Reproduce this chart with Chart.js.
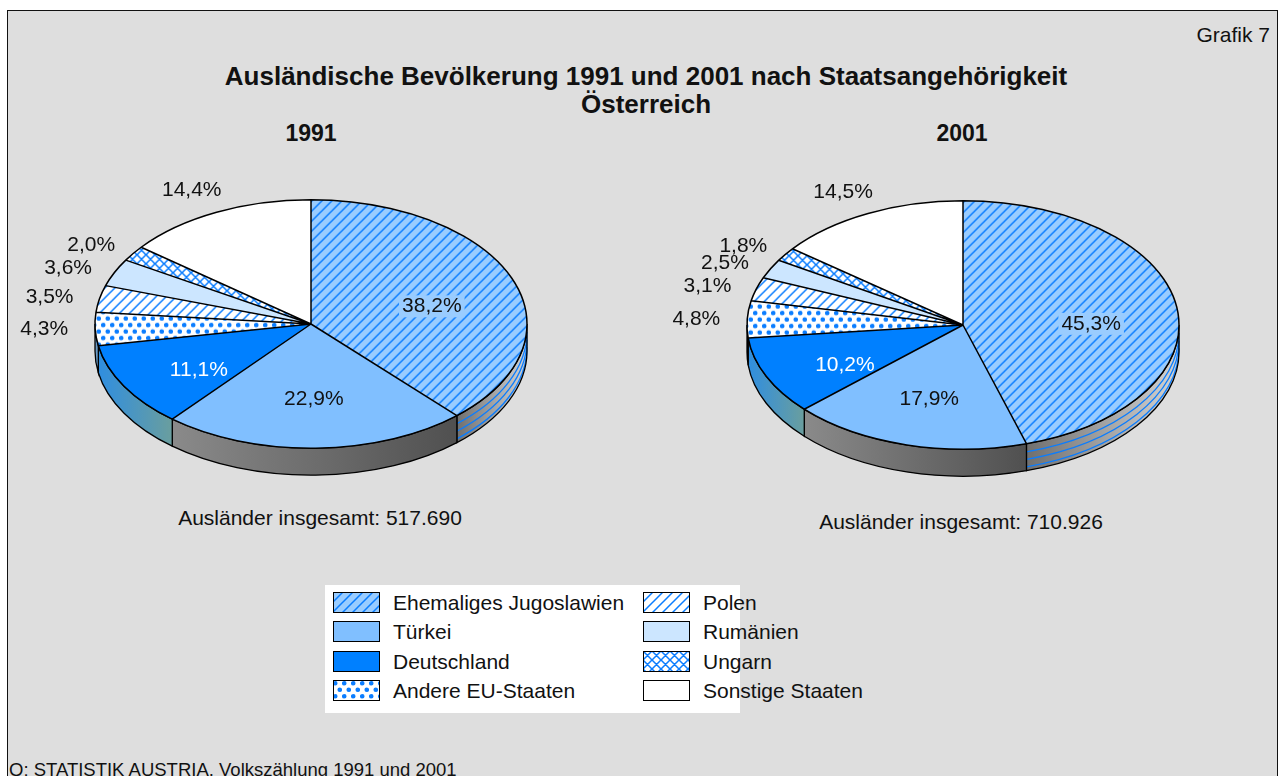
<!DOCTYPE html>
<html>
<head>
<meta charset="utf-8">
<script src="https://cdn.jsdelivr.net/npm/chart.js@4.4.0/dist/chart.umd.min.js"></script>
<style>
  body { margin: 0; background: #fff; font-family: 'Liberation Sans', Arial, sans-serif; color: #111; }
  #frame { position: absolute; left: 7px; top: 10px; width: 1269px; height: 800px; background: #dedede; border: 1px solid #111; }
  .txt { position: absolute; white-space: nowrap; transform: translate(-50%, -50%); font-size: 21px; }
  .bold { font-weight: bold; font-size: 26px; }
  .year { font-weight: bold; font-size: 23px; }
  .src { font-size: 18.5px; }
  .pie { position: absolute; }
  #legend { position: absolute; left: 325px; top: 585px; width: 415px; height: 128px; background: #fff; }
  .sw { position: absolute; }
  .lt { position: absolute; font-size: 21px; white-space: nowrap; transform: translateY(-50%); }
</style>
</head>
<body>
<div id="frame"></div>
<div id="texts"></div>
<div class="pie" style="left:11px; top:94px;"><canvas id="pie1991" width="600" height="460"></canvas></div>
<div class="pie" style="left:663px; top:95px;"><canvas id="pie2001" width="600" height="460"></canvas></div>
<div id="legend"></div>
<script>
// data
var categories = ['Ehemaliges Jugoslawien', 'Türkei', 'Deutschland', 'Andere EU-Staaten', 'Polen', 'Rumänien', 'Ungarn', 'Sonstige Staaten'];
var share1991 = [38.2, 22.9, 11.1, 4.3, 3.5, 3.6, 2.0, 14.4];
var share2001 = [45.3, 17.9, 10.2, 4.8, 3.1, 2.5, 1.8, 14.5];
var years = ['1991', '2001'];
var totals = ['517.690', '710.926'];

// styles
var blue = '#0a7dff';
var fills = [
  { bg: '#99ccff', hatch: 'stripe' },
  { bg: '#80bfff' },
  { bg: '#0080ff' },
  { bg: '#ffffff', hatch: 'dots' },
  { bg: '#ffffff', hatch: 'stripe' },
  { bg: '#cce6ff' },
  { bg: '#ffffff', hatch: 'cross' },
  { bg: '#ffffff' }
];
var wallColors = [
  ['#6f6f6f', '#d4d4d4'],
  ['#8a8a8a', '#505050'],
  ['#2f8ee0', '#6a9e9e'],
  ['#6a9cc8', '#6a9cc8'],
  ['#aaaaaa', '#aaaaaa'],
  ['#aaaaaa', '#aaaaaa'],
  ['#aaaaaa', '#aaaaaa'],
  ['#aaaaaa', '#aaaaaa']
];
var labelColors = ['#111', '#111', '#fff', '#111', '#111', '#111', '#111', '#111'];

var tilt = 0.575;
var depth = 27;
var font = "21px 'Liberation Sans', Arial, sans-serif";

function makeFill(spec, squash) {
  if (!spec.hatch) { return spec.bg; }
  var c = document.createElement('canvas');
  var g = c.getContext('2d');
  if (spec.hatch === 'dots') {
    c.width = 9; c.height = 13;
    g.fillStyle = spec.bg; g.fillRect(0, 0, 9, 13);
    g.fillStyle = blue;
    [[2.25, 3.25], [6.75, 9.75]].forEach(function (p) {
      g.beginPath(); g.arc(p[0], p[1], 2.3, 0, Math.PI * 2); g.fill();
    });
  } else {
    var n = spec.hatch === 'cross' ? 9 : 10;
    c.width = n; c.height = n;
    g.fillStyle = spec.bg; g.fillRect(0, 0, n, n);
    g.strokeStyle = blue; g.lineWidth = 1.5;
    g.beginPath();
    g.moveTo(-1, n + 1); g.lineTo(n + 1, -1);
    g.moveTo(-1, 1); g.lineTo(1, -1);
    g.moveTo(n - 1, n + 1); g.lineTo(n + 1, n - 1);
    if (spec.hatch === 'cross') {
      g.moveTo(-1, -1); g.lineTo(n + 1, n + 1);
      g.moveTo(n - 1, -1); g.lineTo(n + 1, 1);
      g.moveTo(-1, n - 1); g.lineTo(1, n + 1);
    }
    g.stroke();
  }
  var pat = g.createPattern(c, 'repeat');
  if (squash) { pat.setTransform(new DOMMatrix([1, 0, 0, 1 / tilt, 0, 0])); }
  return pat;
}

function fmt(v) { return v.toFixed(1).replace('.', ',') + '%'; }

function wallPath(ctx, cx, cy, rx, ry, a0, a1, d) {
  ctx.beginPath();
  ctx.ellipse(cx, cy, rx, ry, 0, a0, a1, false);
  ctx.lineTo(cx + rx * Math.cos(a1), cy + ry * Math.sin(a1) + d);
  ctx.ellipse(cx, cy + d, rx, ry, 0, a1, a0, true);
  ctx.closePath();
}

var pie3d = {
  id: 'pie3d',
  beforeDatasetsDraw: function (chart) {
    var ctx = chart.ctx;
    var arcs = chart.getDatasetMeta(0).data;
    arcs.forEach(function (a, i) {
      var s = Math.max(a.startAngle, 0), e = Math.min(a.endAngle, Math.PI);
      if (e <= s) { return; }
      var rx = a.outerRadius, ry = rx * tilt;
      var xr = a.x + rx * Math.cos(s), xl = a.x + rx * Math.cos(e);
      var grad = ctx.createLinearGradient(xl, 0, xr, 0);
      grad.addColorStop(0, wallColors[i][0]);
      grad.addColorStop(1, wallColors[i][1]);
      ctx.save();
      wallPath(ctx, a.x, a.y, rx, ry, s, e, depth);
      ctx.fillStyle = grad;
      ctx.fill();
      if (i === 0) {
        ctx.strokeStyle = blue; ctx.lineWidth = 1.3;
        [0.3, 0.58, 0.86].forEach(function (t) {
          ctx.beginPath();
          ctx.ellipse(a.x, a.y + depth * t, rx, ry, 0, s, e, false);
          ctx.stroke();
        });
      }
      wallPath(ctx, a.x, a.y, rx, ry, s, e, depth);
      ctx.strokeStyle = '#000'; ctx.lineWidth = 1.3;
      ctx.stroke();
      ctx.restore();
    });
    var cx = arcs[0].x, cy = arcs[0].y;
    ctx.save();
    ctx.translate(cx, cy);
    ctx.scale(1, tilt);
    ctx.translate(-cx, -cy);
  },
  afterDatasetsDraw: function (chart) {
    var ctx = chart.ctx;
    var arcs = chart.getDatasetMeta(0).data;
    ctx.beginPath();
    arcs.forEach(function (a) {
      ctx.moveTo(a.x, a.y);
      ctx.arc(a.x, a.y, a.outerRadius, a.startAngle, a.endAngle);
      ctx.closePath();
    });
    ctx.restore();
    ctx.save();
    ctx.strokeStyle = '#000';
    ctx.lineWidth = 1.5;
    ctx.lineJoin = 'round';
    ctx.stroke();
    ctx.restore();
  },
  afterDraw: function (chart) {
    var ctx = chart.ctx;
    var arcs = chart.getDatasetMeta(0).data;
    var values = chart.data.datasets[0].data;
    ctx.save();
    ctx.font = font;
    ctx.textAlign = 'center';
    ctx.textBaseline = 'middle';
    arcs.forEach(function (a, i) {
      var m = (a.startAngle + a.endAngle) / 2;
      var r = a.outerRadius, ry = r * tilt;
      var c = Math.cos(m), s = Math.sin(m);
      var text = fmt(values[i]);
      var w = ctx.measureText(text).width, h = 16;
      var x, y;
      var outside = values[i] < 10 || s < -0.5;
      if (!outside) {
        x = a.x + r * c * 0.6;
        y = a.y + ry * s * 0.6 + 10 * Math.abs(c);
        if (fills[i].hatch) {
          ctx.fillStyle = fills[i].bg;
          ctx.fillRect(x - w / 2 - 3, y - h / 2 - 3, w + 6, h + 6);
        }
        ctx.fillStyle = labelColors[i];
      } else {
        x = a.x + (r + 27) * c + w / 2 * c;
        y = a.y + (ry + 20 * s * s) * s + h / 2 * s;
        ctx.fillStyle = '#111';
      }
      ctx.fillText(text, x, y);
    });
    ctx.restore();
  }
};

function makePie(id, values) {
  return new Chart(document.getElementById(id), {
    type: 'pie',
    data: {
      labels: categories,
      datasets: [{
        data: values,
        backgroundColor: fills.map(function (f) { return makeFill(f, true); }),
        borderWidth: 0,
        clip: false
      }]
    },
    options: {
      responsive: false,
      animation: false,
      events: [],
      layout: { padding: 14 },
      plugins: { legend: { display: false }, tooltip: { enabled: false } }
    },
    plugins: [pie3d]
  });
}

makePie('pie1991', share1991);
makePie('pie2001', share2001);

// texts
var texts = document.getElementById('texts');
function addText(str, x, y, cls, anchor) {
  var el = document.createElement('div');
  el.className = 'txt' + (cls ? ' ' + cls : '');
  el.textContent = str;
  el.style.left = x + 'px';
  el.style.top = y + 'px';
  if (anchor === 'right') { el.style.transform = 'translate(-100%, -50%)'; }
  if (anchor === 'left') { el.style.transform = 'translate(0, -50%)'; }
  texts.appendChild(el);
}
addText('Grafik 7', 1270, 35, '', 'right');
addText('Ausländische Bevölkerung 1991 und 2001 nach Staatsangehörigkeit', 646, 76, 'bold');
addText('Österreich', 646, 104, 'bold');
addText(years[0], 311, 133, 'year');
addText(years[1], 962, 133, 'year');
addText('Ausländer insgesamt: ' + totals[0], 320, 518);
addText('Ausländer insgesamt: ' + totals[1], 961, 522);
addText('Q: STATISTIK AUSTRIA, Volkszählung 1991 und 2001', 9, 770, 'src', 'left');

// legend
var legend = document.getElementById('legend');
categories.forEach(function (name, i) {
  var col = Math.floor(i / 4), row = i % 4;
  var sx = 8 + col * 310, sy = 7 + row * 29.3;
  var cv = document.createElement('canvas');
  cv.width = 47; cv.height = 21;
  cv.className = 'sw';
  cv.style.left = sx + 'px';
  cv.style.top = sy + 'px';
  var g = cv.getContext('2d');
  g.fillStyle = makeFill(fills[i], false);
  g.fillRect(0, 0, 47, 21);
  g.strokeStyle = '#000';
  g.lineWidth = 1;
  g.strokeRect(0.5, 0.5, 46, 20);
  legend.appendChild(cv);
  var t = document.createElement('div');
  t.className = 'lt';
  t.textContent = name;
  t.style.left = (sx + 60) + 'px';
  t.style.top = (sy + 11) + 'px';
  legend.appendChild(t);
});
</script>
</body>
</html>
